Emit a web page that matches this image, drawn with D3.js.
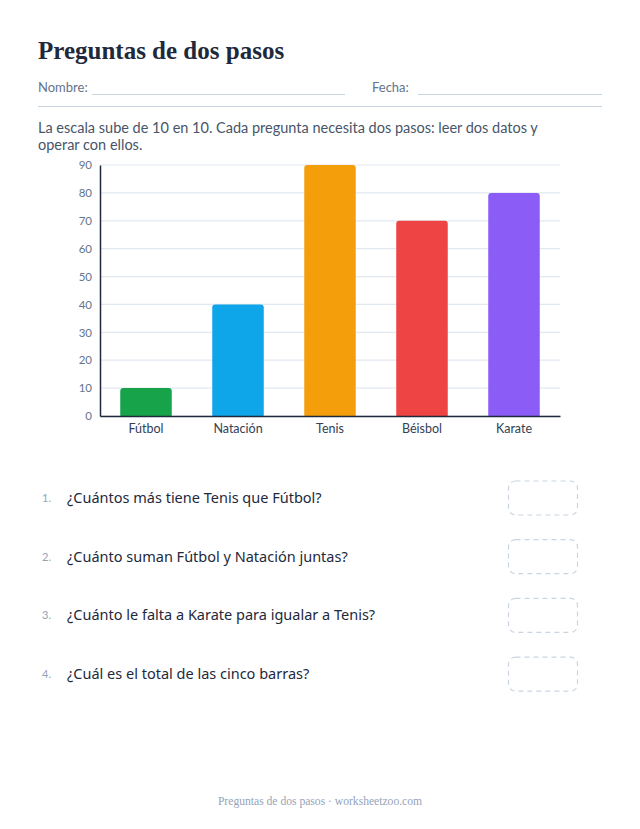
<!DOCTYPE html>
<html><head><meta charset="utf-8">
<script src="https://cdn.jsdelivr.net/npm/d3@7"></script>
<style>body{margin:0;background:#fff}svg{display:block}</style>
</head><body>
<script>
const categories = ["Fútbol","Natación","Tenis","Béisbol","Karate"];
const values = [10,40,90,70,80];
const colors = ["#16a34a","#0ea5e9","#f59e0b","#ef4444","#8b5cf6"];
const yTicks = [0,10,20,30,40,50,60,70,80,90];
const questions = ["¿Cuántos más tiene Tenis que Fútbol?","¿Cuánto suman Fútbol y Natación juntas?","¿Cuánto le falta a Karate para igualar a Tenis?","¿Cuál es el total de las cinco barras?"];

const W=640,H=829;
const sans="Lato, 'Noto Sans', sans-serif";
const qsans="'Noto Sans', Lato, sans-serif";
const serif="'Liberation Serif', 'DejaVu Serif', serif";
const svg=d3.select("body").append("svg").attr("width",W).attr("height",H);

svg.append("text").attr("x",38).attr("y",59).text("Preguntas de dos pasos")
  .attr("font-family",serif).attr("font-weight","bold").attr("font-size",25).attr("fill","#1e293b");

svg.append("text").attr("x",38).attr("y",92).text("Nombre:").attr("font-family",sans).attr("font-size",13).attr("fill","#64748b");
svg.append("line").attr("x1",92).attr("x2",345).attr("y1",94.5).attr("y2",94.5).attr("stroke","#cbd5e1");
svg.append("text").attr("x",372).attr("y",92).text("Fecha:").attr("font-family",sans).attr("font-size",13).attr("fill","#64748b");
svg.append("line").attr("x1",418).attr("x2",602).attr("y1",94.5).attr("y2",94.5).attr("stroke","#cbd5e1");
svg.append("line").attr("x1",38).attr("x2",602).attr("y1",106.5).attr("y2",106.5).attr("stroke","#cbd5e1").attr("stroke-width",1.2);

const desc=["La escala sube de 10 en 10. Cada pregunta necesita dos pasos: leer dos datos y","operar con ellos."];
desc.forEach((t,i)=>svg.append("text").attr("x",38).attr("y",133+i*17).text(t)
  .attr("font-family",sans).attr("font-size",14.5).attr("fill","#475569"));

const x=d3.scaleBand().domain(categories).range([100,560]).paddingInner(0.44).paddingOuter(0.22);
const y=d3.scaleLinear().domain([0,90]).range([416,165]);

const g=svg.append("g");
g.selectAll("line.grid").data(yTicks).join("line").attr("class","grid")
  .attr("x1",100).attr("x2",560).attr("y1",d=>y(d)).attr("y2",d=>y(d))
  .attr("stroke","#e2e8f0").attr("stroke-width",1.2);

const yAxis=g.append("g").attr("transform","translate(100,0)")
  .call(d3.axisLeft(y).tickValues(yTicks).tickSize(0).tickPadding(8));
yAxis.select(".domain").attr("stroke","#1e293b").attr("stroke-width",1.5);
yAxis.selectAll("text").attr("font-family",sans).attr("font-size",11.5).attr("fill","#64748b");

const r=3;
g.selectAll("path.bar").data(values).join("path").attr("class","bar")
  .attr("fill",(d,i)=>colors[i])
  .attr("d",(d,i)=>{
    const x0=x(categories[i]),w=x.bandwidth(),y0=y(d),y1=y(0);
    return `M${x0},${y1}V${y0+r}Q${x0},${y0} ${x0+r},${y0}H${x0+w-r}Q${x0+w},${y0} ${x0+w},${y0+r}V${y1}Z`;
  });

const xAxis=g.append("g").attr("transform","translate(0,416)")
  .call(d3.axisBottom(x).tickSize(0).tickPadding(8));
xAxis.select(".domain").attr("stroke","#1e293b").attr("stroke-width",1.5);
xAxis.selectAll("text").attr("font-family",sans).attr("font-size",12.5).attr("fill","#334155");

questions.forEach((q,i)=>{
  const yy=503+i*58.7;
  svg.append("text").attr("x",42).attr("y",yy-1).text((i+1)+".").attr("font-family",sans).attr("font-size",11).attr("fill","#94a3b8");
  svg.append("text").attr("x",67).attr("y",yy).text(q).attr("font-family",qsans).attr("font-size",14.5).attr("fill","#1e293b");
  svg.append("rect").attr("x",508.5).attr("y",yy-22).attr("width",69).attr("height",34).attr("rx",7)
    .attr("fill","none").attr("stroke","#cbd5e1").attr("stroke-width",1.2).attr("stroke-dasharray","5,4");
});

svg.append("text").attr("x",320).attr("y",805).attr("text-anchor","middle").text("Preguntas de dos pasos · worksheetzoo.com")
  .attr("font-family",serif).attr("font-size",11.6).attr("fill","#94a3b8");
</script>
</body></html>
